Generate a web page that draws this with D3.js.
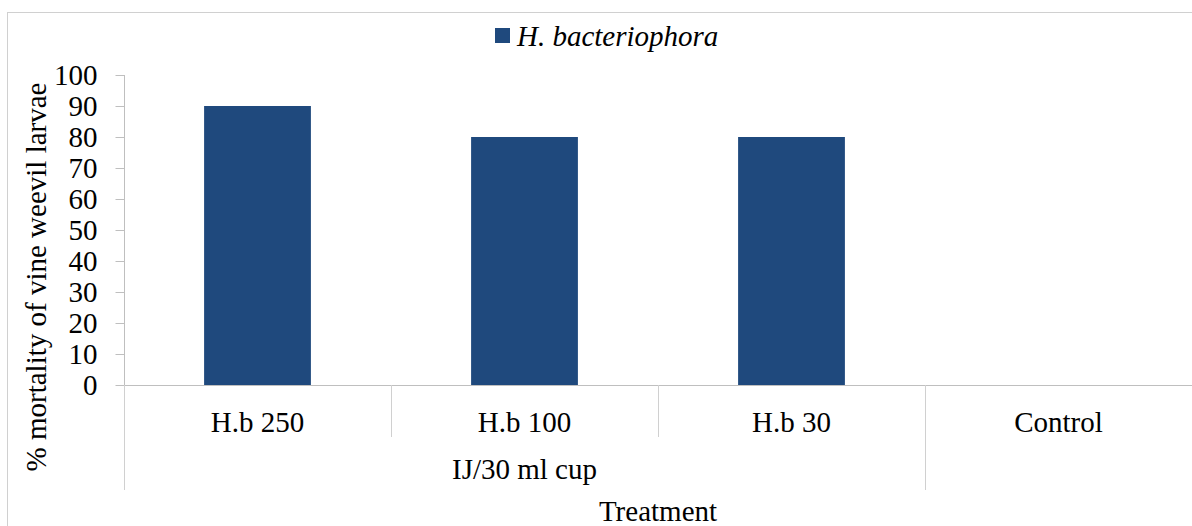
<!DOCTYPE html>
<html>
<head>
<meta charset="utf-8">
<script src="https://cdn.jsdelivr.net/npm/d3@7"></script>
<style>
  body { margin: 0; background: #fff; }
</style>
</head>
<body>
<svg id="chart" width="1192" height="526"></svg>
<script>
// dados do gráfico
const categorias = ["H.b 250", "H.b 100", "H.b 30", "Control"];
const mortalidade = [90, 80, 80, 0];
const ticksY = [0, 10, 20, 30, 40, 50, 60, 70, 80, 90, 100];
const nomeSerie = "H. bacteriophora";
const grupo = "IJ/30 ml cup";
const tituloX = "Treatment";
const tituloY = "% mortality of vine weevil larvae";

const fonte = "'Liberation Serif', 'Times New Roman', 'DejaVu Serif', serif";
const tamanho = "29px";

const svg = d3.select("#chart");
const cor = "#1f497d";
const cinza = "#bfbfbf";

// borda externa
svg.append("rect")
    .attr("x", 7.5).attr("y", 12.5)
    .attr("width", 1200).attr("height", 600)
    .attr("fill", "none").attr("stroke", "#d0d0d0");

const margem = {left: 124, right: 0, top: 75, bottom: 141};
const largura = 1192 - margem.left - margem.right;

const x = d3.scaleBand().domain(categorias).range([margem.left, margem.left + largura]).paddingInner(0).paddingOuter(0);
const y = d3.scaleLinear().domain([0, 100]).range([385, 75]);

// barras
svg.append("g").selectAll("rect")
    .data(categorias)
    .enter().append("rect")
        .attr("x", (d) => x(d) + x.bandwidth() * 0.3)
        .attr("width", x.bandwidth() * 0.4)
        .attr("y", (d, i) => y(mortalidade[i]))
        .attr("height", (d, i) => y(0) - y(mortalidade[i]))
        .attr("fill", cor);

// eixo Y
const eixoY = svg.append("g")
    .attr("transform", `translate(${margem.left + 0.5},0)`)
    .call(d3.axisLeft(y).tickValues(ticksY).tickSize(9).tickPadding(18));
eixoY.selectAll("line, path").attr("stroke", cinza);
eixoY.select("path").attr("d", `M0,${y(100)}V${y(0)}`);
eixoY.selectAll("text")
    .style("font-family", fonte)
    .style("font-size", tamanho)
    .attr("fill", "#000")
    .attr("dy", "0.34em");

// eixo X
svg.append("line")
    .attr("x1", margem.left).attr("x2", 1192)
    .attr("y1", y(0) + 0.5).attr("y2", y(0) + 0.5)
    .attr("stroke", cinza);

// separadores das categorias
const limites = categorias.map((d) => x(d)).concat([x(categorias[categorias.length - 1]) + x.bandwidth()]);
svg.append("g").selectAll("line")
    .data(limites)
    .enter().append("line")
        .attr("x1", (d) => Math.round(d) + 0.5)
        .attr("x2", (d) => Math.round(d) + 0.5)
        .attr("y1", y(0))
        .attr("y2", (d, i) => (i === 0 || i === 3 || i === 4) ? 490 : 437)
        .attr("stroke", "#d0d0d0");

const textos = svg.append("g")
    .style("font-family", fonte)
    .style("font-size", tamanho)
    .attr("fill", "#000");

textos.selectAll(".categoria")
    .data(categorias)
    .enter().append("text")
        .attr("class", "categoria")
        .attr("x", (d) => x(d) + x.bandwidth() / 2)
        .attr("y", 432)
        .attr("text-anchor", "middle")
        .text((d) => d);

// rótulo do grupo
textos.append("text")
    .attr("x", (x(categorias[0]) + x(categorias[2]) + x.bandwidth()) / 2)
    .attr("y", 479)
    .attr("text-anchor", "middle")
    .text(grupo);

// títulos
textos.append("text")
    .attr("x", margem.left + largura / 2)
    .attr("y", 521)
    .attr("text-anchor", "middle")
    .text(tituloX);

textos.append("text")
    .attr("transform", "translate(46,277) rotate(-90)")
    .attr("text-anchor", "middle")
    .text(tituloY);

// legenda
svg.append("rect")
    .attr("x", 495).attr("y", 28)
    .attr("width", 15).attr("height", 15)
    .attr("fill", cor);
textos.append("text")
    .attr("x", 517).attr("y", 46)
    .style("font-style", "italic")
    .text(nomeSerie);
</script>
</body>
</html>
